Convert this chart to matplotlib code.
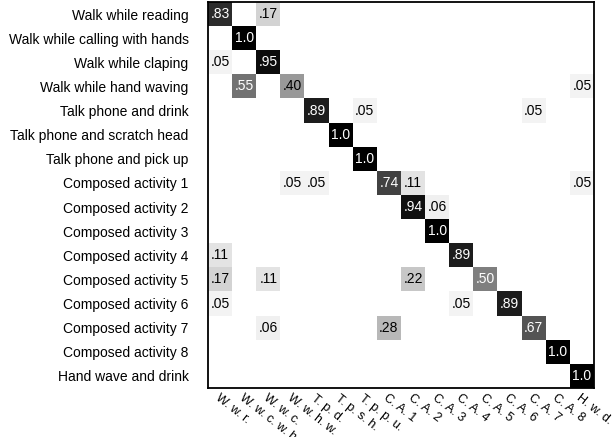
import numpy as np
import matplotlib
matplotlib.use('Agg')
import matplotlib.pyplot as plt

plt.rcParams['font.family'] = ['Liberation Sans', 'DejaVu Sans']

# row (true) labels and column (predicted) abbreviations
row_labels = ['Walk while reading', 'Walk while calling with hands', 'Walk while claping',
              'Walk while hand waving', 'Talk phone and drink', 'Talk phone and scratch head',
              'Talk phone and pick up', 'Composed activity 1', 'Composed activity 2',
              'Composed activity 3', 'Composed activity 4', 'Composed activity 5',
              'Composed activity 6', 'Composed activity 7', 'Composed activity 8',
              'Hand wave and drink']
col_labels = ['W. w. r.', 'W. w. c. w. h.', 'W. w. c.', 'W. w. h. w.', 'T. p. d.',
              'T. p. s. h.', 'T. p. p. u.', 'C. A. 1', 'C. A. 2', 'C. A. 3', 'C. A. 4',
              'C. A. 5', 'C. A. 6', 'C. A. 7', 'C. A. 8', 'H. w. d.']

# non-zero entries: (row, col, value)
cells_row = [0, 0, 1, 2, 2, 3, 3, 3, 4, 4, 4, 5, 6, 7, 7, 7, 7, 7, 8, 8, 9,
             10, 10, 11, 11, 11, 11, 12, 12, 12, 13, 13, 13, 14, 15]
cells_col = [0, 2, 1, 0, 2, 1, 3, 15, 4, 6, 13, 5, 6, 3, 4, 7, 8, 15, 8, 9, 9,
             0, 10, 0, 2, 8, 11, 0, 10, 12, 2, 7, 13, 14, 15]
cells_val = [.83, .17, 1.0, .05, .95, .55, .40, .05, .89, .05, .05, 1.0, 1.0,
             .05, .05, .74, .11, .05, .94, .06, 1.0, .11, .89, .17, .11, .22, .50,
             .05, .05, .89, .06, .28, .67, 1.0, 1.0]

n = len(row_labels)
mat = np.zeros((n, n))
for r, c, v in zip(cells_row, cells_col, cells_val):
    mat[r, c] = v

fig = plt.figure(figsize=(6.16, 4.37), dpi=100)
ax = fig.add_axes([208 / 616, 1 - 388 / 437, 386 / 616, 386 / 437])
ax.imshow(mat, cmap='gray_r', vmin=0, vmax=1, aspect='auto', interpolation='nearest')

for r, c, v in zip(cells_row, cells_col, cells_val):
    txt = '1.0' if v >= 1 else ('%.2f' % v)[1:]
    ax.text(c, r, txt, ha='center', va='center', fontsize=10,
            color='white' if v >= 0.5 else 'black')

ax.set_xticks(range(n))
ax.set_yticks(range(n))
ax.set_yticklabels(row_labels, fontsize=10)
ax.set_xticklabels(col_labels, fontsize=9, rotation=-38, ha='left', va='top',
                   rotation_mode='anchor')
ax.tick_params(axis='y', length=0, pad=14)
ax.tick_params(axis='x', length=0, pad=3)
for s in ax.spines.values():
    s.set_linewidth(1.3)

plt.savefig('out.png', dpi=100)
